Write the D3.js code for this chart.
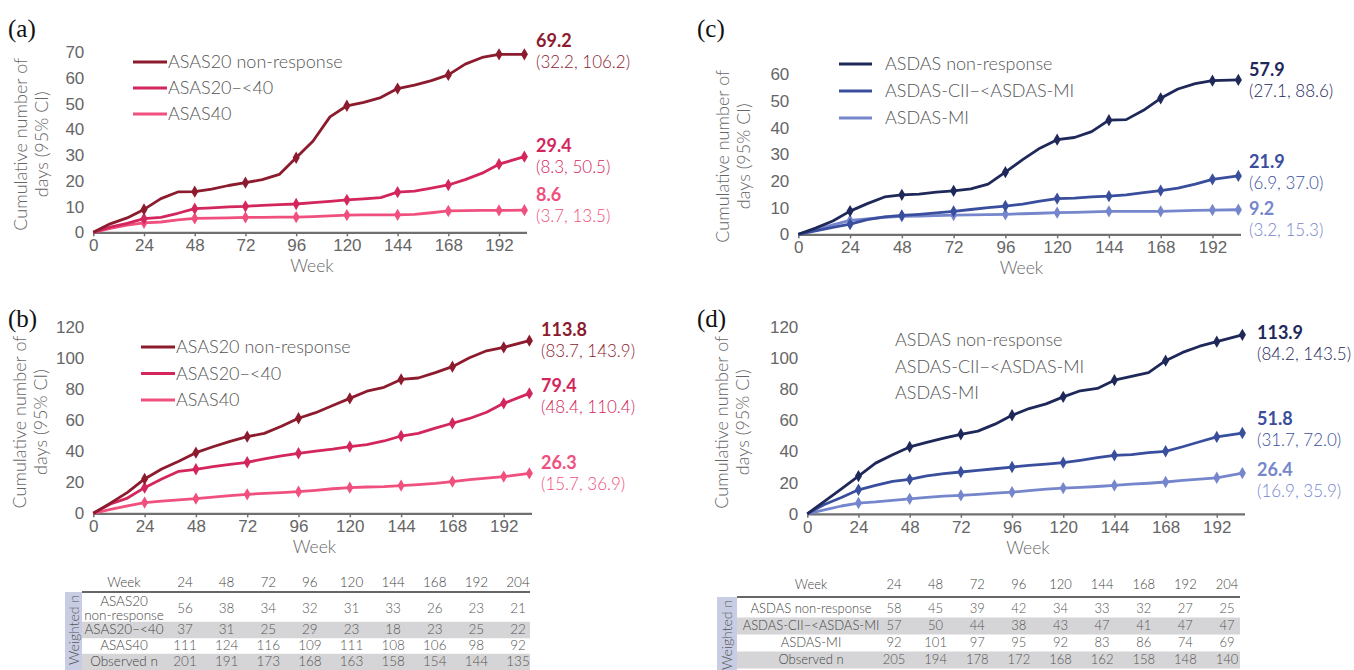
<!DOCTYPE html>
<html>
<head>
<meta charset="utf-8">
<script src="https://cdn.jsdelivr.net/npm/d3@7"></script>
<style>
  body { margin: 0; background: #fff; }
  svg { font-family: Lato, "Open Sans", sans-serif; }
  .tick text { fill: #666; font-size: 17px; font-weight: 300; }
</style>
</head>
<body>
<svg id="chart" width="1354" height="670"></svg>
<script>
// weeks where values are read, and weeks that carry a diamond
var weeks = [0, 8, 16, 24, 32, 40, 48, 56, 64, 72, 80, 88, 96, 104, 112, 120, 128, 136, 144, 152, 160, 168, 176, 184, 192, 204];
var markerWeeks = [24, 48, 72, 96, 120, 144, 168, 192, 204];
var xTicks = [0, 24, 48, 72, 96, 120, 144, 168, 192];

// (a) ASAS, flare days
var aNonResp = [0, 3.3, 5.6, 8.9, 13.1, 15.7, 15.8, 16.8, 18.2, 19.3, 20.5, 22.5, 29.0, 35.5, 44.9, 49.2, 50.5, 52.4, 55.9, 57.2, 59.0, 61.2, 65.4, 68.0, 69.2, 69.2];
var aMid = [0, 2.0, 3.5, 5.3, 5.8, 7.4, 9.2, 9.5, 9.9, 10.1, 10.5, 10.8, 11.0, 11.5, 12.0, 12.6, 13.0, 13.5, 15.6, 16.0, 17.2, 18.4, 20.5, 23.0, 26.5, 29.4];
var aHigh = [0, 1.5, 2.8, 3.7, 4.0, 4.8, 5.4, 5.5, 5.6, 5.8, 5.8, 5.9, 5.9, 6.1, 6.4, 6.7, 6.8, 6.8, 6.8, 7.0, 7.6, 8.3, 8.4, 8.5, 8.5, 8.6];
// (b) ASAS, second outcome
var bNonResp = [0, 6.5, 13.5, 22.1, 28.5, 33.5, 39.0, 42.8, 46.2, 49.3, 51.4, 56.0, 61.1, 64.7, 69.3, 73.9, 78.5, 81.0, 86.1, 87.0, 90.5, 94.3, 100.0, 104.5, 106.7, 111.0];
var bMid = [0, 6.0, 9.8, 16.5, 22.0, 27.0, 28.3, 30.0, 31.5, 32.8, 35.0, 37.0, 38.6, 40.0, 41.3, 42.9, 44.2, 46.5, 49.7, 51.4, 54.8, 57.9, 61.0, 65.0, 70.7, 77.1];
var bHigh = [0, 2.5, 4.8, 6.9, 7.8, 8.6, 9.4, 10.4, 11.4, 12.2, 12.8, 13.3, 13.9, 14.8, 15.8, 16.5, 16.9, 17.2, 17.8, 18.5, 19.2, 20.4, 21.6, 22.6, 23.6, 25.7];
// (c) ASDAS, flare days
var cNonResp = [0, 2.3, 5.0, 8.7, 11.5, 14.0, 14.8, 15.1, 15.8, 16.3, 17.0, 18.8, 23.3, 28.0, 32.3, 35.5, 36.3, 38.5, 42.8, 43.0, 46.5, 51.0, 54.5, 56.5, 57.6, 57.9];
var cMid = [0, 1.3, 2.6, 3.8, 5.5, 6.5, 7.1, 7.5, 8.0, 8.6, 9.3, 10.0, 10.6, 11.3, 12.4, 13.4, 13.6, 14.0, 14.3, 14.8, 15.6, 16.4, 17.3, 18.8, 20.6, 21.9];
var cHigh = [0, 1.8, 3.5, 5.2, 5.8, 6.4, 6.7, 6.8, 7.0, 7.2, 7.3, 7.4, 7.5, 7.7, 7.9, 8.1, 8.2, 8.4, 8.6, 8.6, 8.6, 8.6, 8.8, 9.0, 9.1, 9.2];
// (d) ASDAS, second outcome
var dNonResp = [0, 8.0, 16.0, 24.2, 32.5, 37.8, 42.9, 45.8, 48.5, 51.0, 53.0, 57.5, 63.2, 67.5, 70.5, 75.0, 78.9, 80.4, 85.7, 88.2, 90.5, 98.2, 103.5, 107.5, 110.4, 114.8];
var dMid = [0, 6.0, 10.5, 15.4, 18.2, 20.8, 22.1, 24.3, 25.7, 26.8, 27.8, 28.9, 30.0, 31.0, 31.9, 32.8, 34.3, 36.0, 37.5, 38.0, 39.2, 40.1, 43.0, 46.2, 49.3, 51.8];
var dHigh = [0, 2.5, 5.0, 6.9, 7.6, 8.6, 9.6, 10.6, 11.3, 11.8, 12.5, 13.2, 13.9, 14.8, 15.8, 16.5, 17.0, 17.5, 18.2, 19.0, 19.6, 20.4, 21.4, 22.3, 23.1, 26.1];

var asasNames = ["ASAS20 non-response", "ASAS20\u2212<40", "ASAS40"];
var asdasNames = ["ASDAS non-response", "ASDAS-CII\u2212<ASDAS-MI", "ASDAS-MI"];

var aEnd = ["69.2", "29.4", "8.6"], aCI = ["(32.2, 106.2)", "(8.3, 50.5)", "(3.7, 13.5)"];
var bEnd = ["113.8", "79.4", "26.3"], bCI = ["(83.7, 143.9)", "(48.4, 110.4)", "(15.7, 36.9)"];
var cEnd = ["57.9", "21.9", "9.2"], cCI = ["(27.1, 88.6)", "(6.9, 37.0)", "(3.2, 15.3)"];
var dEnd = ["113.9", "51.8", "26.4"], dCI = ["(84.2, 143.5)", "(31.7, 72.0)", "(16.9, 35.9)"];

// tables
var tableWeeks = [24, 48, 72, 96, 120, 144, 168, 192, 204];
var asasRows = ["ASAS20\nnon-response", "ASAS20\u2212<40", "ASAS40", "Observed n"];
var asasCounts = [
  [56, 38, 34, 32, 31, 33, 26, 23, 21],
  [37, 31, 25, 29, 23, 18, 23, 25, 22],
  [111, 124, 116, 109, 111, 108, 106, 98, 92],
  [201, 191, 173, 168, 163, 158, 154, 144, 135]
];
var asdasRows = ["ASDAS non-response", "ASDAS-CII\u2212<ASDAS-MI", "ASDAS-MI", "Observed n"];
var asdasCounts = [
  [58, 45, 39, 42, 34, 33, 32, 27, 25],
  [57, 50, 44, 38, 43, 47, 41, 47, 47],
  [92, 101, 97, 95, 92, 83, 86, 74, 69],
  [205, 194, 178, 172, 168, 162, 158, 148, 140]
];

var redColors = ["#8c1b2e", "#d3265c", "#f0507d"];
var blueColors = ["#1e2859", "#3a4e9e", "#7686cc"];

var svg = d3.select("#chart");

function drawPanel(p) {
  var g = svg.append("g");
  var x = d3.scaleLinear().domain([0, 205]).range([p.x0, p.x1]);
  var y = d3.scaleLinear().domain([0, p.yMax]).range([p.y0, p.yTop]);

  // panel letter
  g.append("text").attr("x", p.letterX).attr("y", p.letterY)
    .style("font-family", "'Liberation Serif', 'DejaVu Serif', serif")
    .style("font-size", "25px").attr("fill", "#111").text(p.letter);

  // y axis labels only
  var yAxis = g.append("g").attr("transform", "translate(" + (p.x0 - 5) + ",0)")
    .call(d3.axisLeft(y).tickValues(d3.range(0, p.yMax + 1, p.yStep)).tickSize(0).tickPadding(4));
  yAxis.select(".domain").remove();

  var xAxis = g.append("g").attr("transform", "translate(0," + p.y0 + ")")
    .call(d3.axisBottom(x).tickValues(xTicks).tickSizeInner(4).tickSizeOuter(0).tickPadding(3));
  xAxis.select(".domain").attr("stroke", "#707070").attr("stroke-width", 2.2);
  xAxis.selectAll(".tick line").attr("stroke", "#707070").attr("stroke-width", 1.5);

  g.append("text").attr("x", (p.x0 + p.x1) / 2 + 2).attr("y", p.y0 + 40)
    .attr("text-anchor", "middle").attr("fill", "#666")
    .style("font-size", "17.5px").style("font-weight", 300).text("Week");

  // y title
  var cy = (p.y0 + p.yTop) / 2 + 2;
  var t = g.append("text").attr("transform", "translate(" + p.titleX + "," + cy + ") rotate(-90)")
    .attr("text-anchor", "middle").attr("fill", "#666")
    .style("font-size", "18px").style("font-weight", 300);
  t.append("tspan").attr("x", 0).attr("dy", 0).text("Cumulative number of");
  t.append("tspan").attr("x", 0).attr("dy", 21).text("days (95% CI)");

  var line = d3.line().x(function(d) { return x(d[0]); }).y(function(d) { return y(d[1]); });
  var diamond = d3.symbol().type(d3.symbolDiamond).size(44);

  // draw lightest first so darker lines sit on top
  for (var i = p.series.length - 1; i >= 0; i--) {
    var pts = weeks.map(function(w, j) { return [w, p.series[i][j]]; });
    g.append("path").datum(pts).attr("d", line).attr("fill", "none")
      .attr("stroke", p.colors[i]).attr("stroke-width", 2.8).attr("stroke-linejoin", "round");
    g.selectAll(null).data(pts.filter(function(d) { return markerWeeks.indexOf(d[0]) >= 0; }))
      .enter().append("path").attr("d", diamond)
      .attr("transform", function(d) { return "translate(" + x(d[0]) + "," + y(d[1]) + ")"; })
      .attr("fill", p.colors[i]);
  }

  // legend
  p.names.forEach(function(n, i) {
    var ly = p.legY + i * p.legStep;
    if (p.legLine) {
      g.append("line").attr("x1", p.legX).attr("x2", p.legX + p.legLen).attr("y1", ly).attr("y2", ly)
        .attr("stroke", p.colors[i]).attr("stroke-width", 2.8);
    }
    g.append("text").attr("x", p.legX + (p.legLine ? p.legGap : 0)).attr("y", ly + 6)
      .attr("fill", "#555").style("font-size", "18px").style("font-weight", 300).text(n);
  });

  // end labels
  p.endVals.forEach(function(v, i) {
    g.append("text").attr("x", p.endX).attr("y", p.endY[i]).attr("fill", p.colors[i])
      .style("font-size", "18px").style("font-weight", 700).text(v);
    g.append("text").attr("x", p.endX).attr("y", p.endY[i] + 21).attr("fill", p.colors[i])
      .style("font-size", "17px").style("font-weight", 300).text(p.ci[i]);
  });
}

drawPanel({ letter: "(a)", letterX: 8, letterY: 37, titleX: 27, x0: 93.3, x1: 526.5, y0: 232.3, yTop: 52.3, yMax: 70, yStep: 10,
  series: [aNonResp, aMid, aHigh], colors: redColors, names: asasNames,
  legLine: true, legX: 133, legLen: 34, legGap: 35, legY: 62, legStep: 26,
  endVals: aEnd, ci: aCI, endX: 536, endY: [47, 152, 201] });

drawPanel({ letter: "(b)", letterX: 8, letterY: 327, titleX: 26, x0: 93.3, x1: 531.5, y0: 513.3, yTop: 326.7, yMax: 120, yStep: 20,
  series: [bNonResp, bMid, bHigh], colors: redColors, names: asasNames,
  legLine: true, legX: 141, legLen: 34, legGap: 35, legY: 347, legStep: 26.5,
  endVals: bEnd, ci: bCI, endX: 541, endY: [336, 392, 469] });

drawPanel({ letter: "(c)", letterX: 697, letterY: 37, titleX: 729, x0: 798.3, x1: 1240.5, y0: 234.3, yTop: 74.3, yMax: 60, yStep: 10,
  series: [cNonResp, cMid, cHigh], colors: blueColors, names: asdasNames,
  legLine: true, legX: 839, legLen: 33, legGap: 46, legY: 64, legStep: 27,
  endVals: cEnd, ci: cCI, endX: 1249, endY: [76, 168, 215] });

drawPanel({ letter: "(d)", letterX: 697, letterY: 327, titleX: 728, x0: 807.3, x1: 1244.5, y0: 513.8, yTop: 326.7, yMax: 120, yStep: 20,
  series: [dNonResp, dMid, dHigh], colors: blueColors, names: asdasNames,
  legLine: false, legX: 895, legLen: 0, legGap: 0, legY: 340, legStep: 26.7,
  endVals: dEnd, ci: dCI, endX: 1257, endY: [339, 425, 476] });

function drawTable(t) {
  var g = svg.append("g").style("font-size", t.font + "px").style("font-weight", 300);
  var cx = d3.scalePoint().domain(tableWeeks).range([t.col0, t.col1]);

  // shaded rows
  t.rowY.forEach(function(ry, i) {
    if (i % 2 === 1) {
      g.append("rect").attr("x", t.lineX0).attr("y", ry - t.band / 2 - 4).attr("width", t.lineX1 - t.lineX0)
        .attr("height", Math.min(t.band, 670 - (ry - t.band / 2 - 4))).attr("fill", "#d5d5d7");
    }
  });

  // weighted n box
  g.append("rect").attr("x", t.boxX).attr("y", t.lineY).attr("width", t.lineX0 - t.boxX)
    .attr("height", 670 - t.lineY).attr("fill", "#c9cde3");
  g.append("text").attr("transform", "translate(" + (t.boxX + (t.lineX0 - t.boxX) / 2 + 5) + "," + (t.lineY + 38) + ") rotate(-90)")
    .attr("text-anchor", "middle").attr("fill", "#555").style("font-size", "14px").text("Weighted n");

  g.append("text").attr("x", t.labelX).attr("y", t.headY).attr("text-anchor", "middle")
    .attr("fill", "#444").text("Week");
  g.selectAll(null).data(tableWeeks).enter().append("text")
    .attr("x", function(d) { return cx(d); }).attr("y", t.headY).attr("text-anchor", "middle")
    .attr("fill", "#444").text(function(d) { return d; });
  g.append("line").attr("x1", t.lineX0).attr("x2", t.lineX1).attr("y1", t.lineY).attr("y2", t.lineY)
    .attr("stroke", "#333").attr("stroke-width", 1.6);

  t.rows.forEach(function(r, i) {
    var parts = r.split("\n");
    var lab = g.append("text").attr("x", t.labelX).attr("y", t.rowY[i] - (parts.length - 1) * 7)
      .attr("text-anchor", "middle").attr("fill", "#444");
    parts.forEach(function(s, k) {
      lab.append("tspan").attr("x", t.labelX).attr("dy", k === 0 ? 0 : 14).text(s);
    });
    g.selectAll(null).data(t.counts[i]).enter().append("text")
      .attr("x", function(d, j) { return cx(tableWeeks[j]); }).attr("y", t.rowY[i])
      .attr("text-anchor", "middle").attr("fill", "#555").text(function(d) { return d; });
  });
}

drawTable({ rows: asasRows, counts: asasCounts, font: 13.5, col0: 185, col1: 518, labelX: 124, headY: 587,
  lineY: 592, lineX0: 82, lineX1: 530, boxX: 65, rowY: [613, 634, 650, 666], band: 16.5 });

drawTable({ rows: asdasRows, counts: asdasCounts, font: 13, col0: 894, col1: 1227, labelX: 811, headY: 589,
  lineY: 597, lineX0: 737, lineX1: 1240, boxX: 717, rowY: [613, 630, 647, 664], band: 17 });
</script>
</body>
</html>
